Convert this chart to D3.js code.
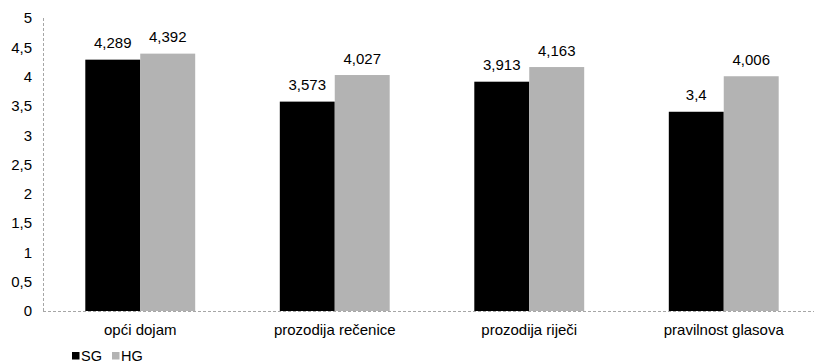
<!DOCTYPE html>
<html>
<head>
<meta charset="utf-8">
<script src="https://cdn.jsdelivr.net/npm/d3@7"></script>
<style>
  html, body { margin: 0; padding: 0; background: #fff; }
  svg { display: block; font-family: "Liberation Sans", Arial, sans-serif; }
</style>
</head>
<body>
<svg id="chart" width="814" height="362"></svg>
<script>
// Mean ratings per category for the two groups
const categories = ["opći dojam", "prozodija rečenice", "prozodija riječi", "pravilnost glasova"];
const seriesNames = ["SG", "HG"];
const sgValues = [4.289, 3.573, 3.913, 3.4];
const hgValues = [4.392, 4.027, 4.163, 4.006];
const sgLabels = ["4,289", "3,573", "3,913", "3,4"];
const hgLabels = ["4,392", "4,027", "4,163", "4,006"];
const yTicks = [0, 0.5, 1, 1.5, 2, 2.5, 3, 3.5, 4, 4.5, 5];
const yTickLabels = ["0", "0,5", "1", "1,5", "2", "2,5", "3", "3,5", "4", "4,5", "5"];
const colors = ["#000000", "#b3b3b3"];

const svg = d3.select("#chart");
const plotLeft = 43, plotRight = 821, plotTop = 18, plotBottom = 311;
const fontSize = 15;

const x0 = d3.scaleBand().domain(categories).range([plotLeft, plotRight]).paddingInner(0.435).paddingOuter(0.2175);
const x1 = d3.scaleBand().domain(seriesNames).range([0, x0.bandwidth()]).padding(0);
const y = d3.scaleLinear().domain([0, 5]).range([plotBottom, plotTop]);

const rows = categories.map((c, i) => ({
  cat: c,
  vals: [
    { s: "SG", v: sgValues[i], label: sgLabels[i] },
    { s: "HG", v: hgValues[i], label: hgLabels[i] }
  ]
}));

// Bars
const groups = svg.append("g").selectAll("g").data(rows).join("g")
  .attr("transform", d => `translate(${x0(d.cat)},0)`);

groups.selectAll("rect").data(d => d.vals).join("rect")
  .attr("x", d => x1(d.s))
  .attr("y", d => y(d.v))
  .attr("width", x1.bandwidth())
  .attr("height", d => y(0) - y(d.v))
  .attr("fill", (d, i) => colors[i]);

// Value labels
groups.selectAll("text").data(d => d.vals).join("text")
  .attr("x", d => x1(d.s) + x1.bandwidth() / 2)
  .attr("y", d => y(d.v) - 11.5)
  .attr("text-anchor", "middle")
  .attr("font-size", fontSize)
  .attr("fill", "#000")
  .text(d => d.label);

// Y axis (dashed line, tick labels only)
const yAxis = d3.axisLeft(y).tickValues(yTicks).tickFormat((d, i) => yTickLabels[i]).tickSize(0).tickPadding(11);
const gy = svg.append("g").attr("transform", `translate(${plotLeft},0)`).call(yAxis);
gy.select(".domain").remove();
gy.selectAll("text").attr("font-size", fontSize).attr("fill", "#000").attr("font-family", "Liberation Sans, Arial, sans-serif");
svg.append("line")
  .attr("x1", plotLeft + 0.5).attr("x2", plotLeft + 0.5)
  .attr("y1", y(5)).attr("y2", y(0))
  .attr("stroke", "#a6a6a6").attr("stroke-width", 1).attr("stroke-dasharray", "3,2");

// X axis (dashed baseline, category labels)
const xAxis = d3.axisBottom(x0).tickSize(0).tickPadding(13);
const gx = svg.append("g").attr("transform", `translate(0,${plotBottom})`).call(xAxis);
gx.select(".domain").remove();
gx.selectAll("text").attr("font-size", fontSize).attr("fill", "#000").attr("font-family", "Liberation Sans, Arial, sans-serif");
svg.append("line")
  .attr("x1", plotLeft).attr("x2", 814)
  .attr("y1", plotBottom + 0.5).attr("y2", plotBottom + 0.5)
  .attr("stroke", "#a6a6a6").attr("stroke-width", 1).attr("stroke-dasharray", "3,2");

// Legend
const legend = svg.append("g").attr("transform", "translate(72,352)");
const legendX = [0, 40];
seriesNames.forEach((name, i) => {
  const g = legend.append("g").attr("transform", `translate(${legendX[i]},0)`);
  g.append("rect").attr("x", 0).attr("y", 0).attr("width", 7.5).attr("height", 7.5).attr("fill", colors[i]);
  g.append("text").attr("x", 9).attr("y", 8.5).attr("font-size", 14.5).attr("fill", "#000").text(name);
});
</script>
</body>
</html>
